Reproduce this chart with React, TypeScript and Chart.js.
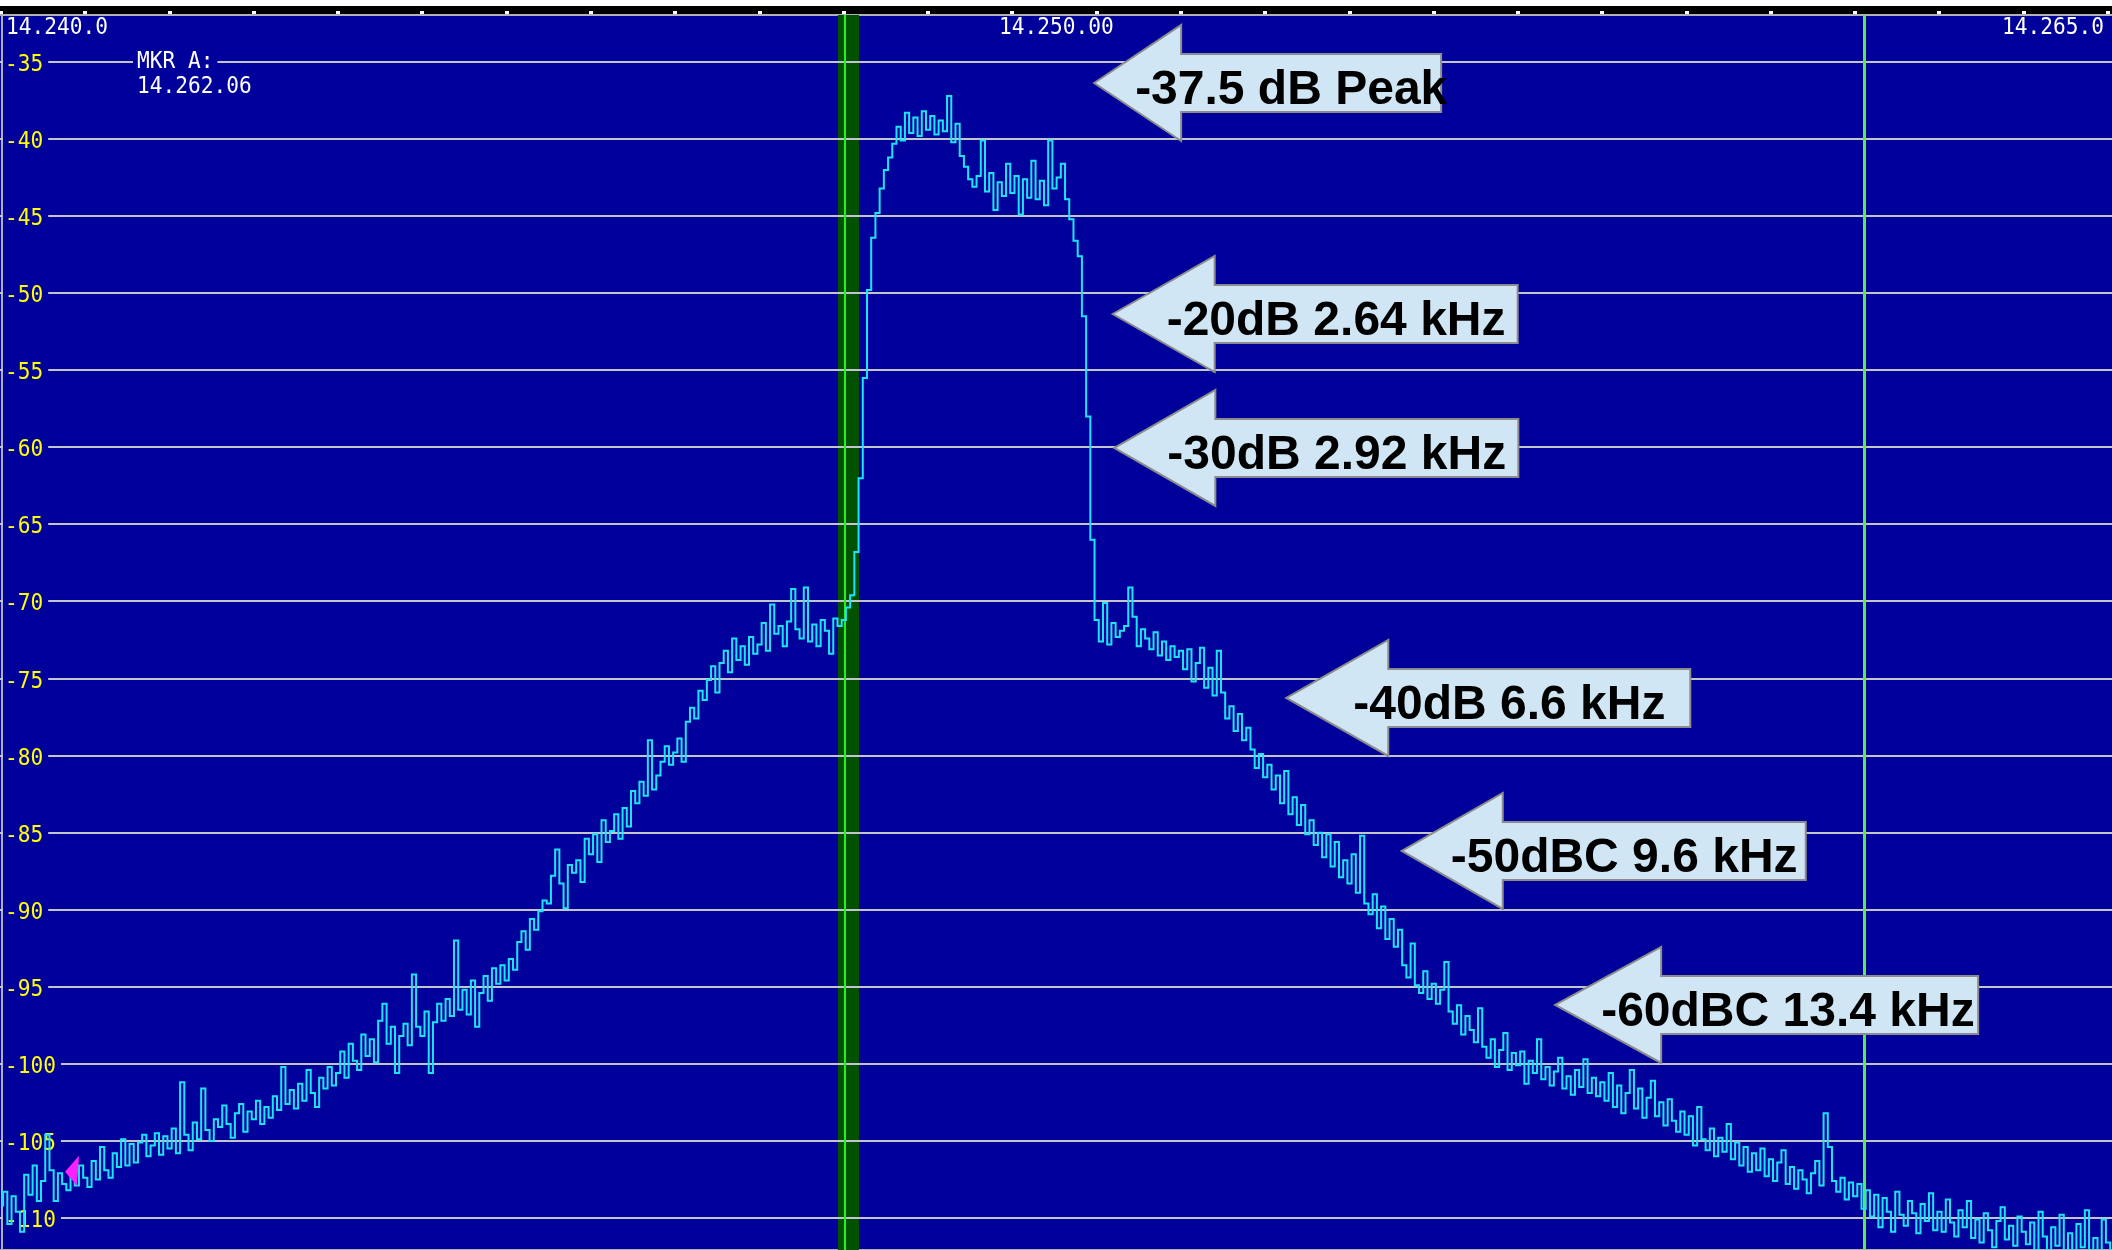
import React, { useEffect, useRef } from 'react';
import { Chart, registerables } from 'chart.js';

Chart.register(...registerables);

// ---- data (kHz offset from 14.240 MHz, level in dB) ----
const START_KHZ = 0;
const STEP_KHZ = 0.05;
const levelsDb: number[] = [
  // 0.00 - 0.95
  -109.2, -108.3, -110.4, -108.6, -109.6, -110.9, -107.2, -108.5, -106.6, -108.9, -107.6, -104.6, -106.9, -108.9, -107.1, -107.8, -108.2, -107.0, -107.9, -106.6,
  // 1
  -107.4, -108.0, -106.3, -107.5, -105.4, -106.9, -107.4, -105.8, -106.7, -104.9, -106.6, -105.2, -106.4, -105.1, -104.6, -106.0, -105.3, -104.5, -105.9, -104.7,
  // 2
  -105.5, -104.2, -105.8, -101.2, -104.6, -105.6, -103.8, -104.9, -101.6, -104.3, -105.0, -103.6, -104.1, -102.7, -103.9, -104.8, -103.2, -102.6, -104.4, -103.1,
  // 3
  -103.6, -102.4, -103.9, -102.8, -103.5, -102.1, -103.0, -100.2, -102.6, -101.7, -102.9, -101.3, -102.4, -100.4, -101.9, -102.8, -100.9, -101.6, -100.2, -101.4,
  // 4
  -100.6, -99.2, -100.9, -98.7, -99.8, -100.4, -98.1, -99.5, -98.4, -99.9, -97.2, -96.1, -98.7, -97.6, -100.6, -98.2, -97.4, -98.8, -94.2, -97.6,
  // 5
  -98.2, -96.6, -100.6, -97.3, -96.1, -97.2, -95.8, -96.9, -92.0, -96.5, -95.2, -96.8, -94.6, -97.6, -95.4, -94.3, -95.9, -93.8, -94.8, -93.6,
  // 6
  -94.6, -93.2, -93.9, -92.1, -91.4, -92.6, -90.6, -91.3, -90.1, -89.4, -89.6, -87.8, -86.1, -88.3, -89.9, -87.1, -87.6, -86.8, -88.2, -85.4,
  // 7
  -86.4, -85.1, -86.9, -84.2, -85.6, -84.9, -83.8, -85.4, -83.4, -84.6, -82.3, -83.1, -81.7, -82.6, -79.0, -82.2, -81.3, -80.4, -79.4, -80.6,
  // 8
  -79.8, -78.9, -80.4, -77.8, -76.9, -77.6, -75.8, -76.4, -75.1, -74.2, -75.9, -74.0, -73.2, -74.6, -72.4, -73.8, -72.9, -74.1, -72.3, -73.4,
  // 9
  -72.8, -71.4, -73.2, -70.2, -72.1, -71.6, -72.9, -71.3, -69.2, -71.8, -72.4, -69.1, -72.6, -71.5, -72.9, -71.2, -71.9, -73.4, -71.1, -71.6,
  // 10
  -71.2, -70.4, -69.6, -66.8, -62.0, -55.5, -49.8, -46.4, -44.8, -43.2, -42.0, -41.2, -40.3, -39.2, -40.1, -38.3, -39.6, -38.6, -39.8, -38.2,
  // 11
  -39.4, -38.5, -39.7, -38.8, -39.5, -37.2, -40.2, -39.0, -41.1, -41.8, -42.6, -43.1, -42.4, -40.1, -43.4, -42.2, -44.6, -42.8, -43.7, -41.6,
  // 12
  -43.5, -42.4, -44.9, -42.6, -43.8, -41.4, -43.9, -42.7, -44.3, -40.1, -43.2, -42.5, -41.6, -43.9, -45.2, -46.6, -47.6, -51.5, -58.0, -66.0,
  // 13
  -71.2, -72.6, -70.1, -72.8, -71.4, -72.3, -71.9, -71.6, -69.1, -71.0, -72.9, -71.8, -72.4, -73.1, -72.0, -73.5, -72.6, -73.8, -72.9, -73.6,
  // 14
  -73.2, -74.4, -73.1, -75.2, -74.0, -73.0, -75.6, -74.3, -76.1, -73.2, -75.9, -77.6, -76.8, -78.4, -77.3, -79.0, -78.2, -79.6, -80.8, -79.9,
  // 15
  -81.4, -80.6, -82.2, -81.3, -83.1, -81.0, -83.8, -82.7, -84.5, -83.2, -85.1, -84.2, -85.8, -85.0, -86.6, -85.1, -87.2, -85.6, -87.9, -86.8,
  // 16
  -88.3, -86.4, -88.9, -85.2, -89.6, -90.3, -89.0, -91.2, -89.8, -91.9, -90.6, -92.4, -91.3, -93.6, -94.4, -92.2, -94.9, -95.4, -94.0, -95.8,
  // 17
  -94.8, -96.1, -95.2, -93.4, -96.6, -97.4, -96.2, -98.1, -96.9, -97.8, -98.6, -96.4, -98.9, -99.6, -98.4, -100.2, -99.1, -98.0, -100.4, -99.3,
  // 18
  -100.1, -99.2, -101.3, -99.8, -100.6, -98.4, -101.0, -100.2, -101.4, -100.5, -99.6, -101.6, -100.8, -102.0, -100.4, -101.5, -99.7, -101.9, -100.9, -102.1,
  // 19
  -101.2, -102.4, -100.6, -102.8, -101.4, -103.2, -101.9, -100.4, -102.9, -101.6, -103.5, -102.2, -101.1, -103.4, -102.5, -104.0, -102.3, -103.7, -104.4, -103.1,
  // 20
  -104.6, -103.4, -105.3, -102.8, -104.9, -105.6, -104.2, -106.0, -104.8, -105.7, -103.9, -106.2, -105.1, -106.6, -105.4, -107.0, -105.8, -106.9, -105.5, -107.3,
  // 21
  -106.2, -107.6, -106.4, -105.6, -107.8, -106.7, -108.1, -106.9, -107.5, -108.4, -107.1, -106.3, -107.9, -103.2, -105.4, -107.6, -108.3, -107.4, -108.8, -107.7,
  // 22
  -108.6, -107.8, -109.4, -108.2, -109.9, -108.5, -110.6, -108.7, -109.6, -110.9, -108.3, -109.8, -110.5, -108.9, -109.7, -111.0, -109.1, -110.2, -108.4, -110.8,
  // 23
  -109.6, -110.9, -108.8, -110.3, -111.2, -109.5, -110.6, -108.9, -111.3, -110.1, -111.6, -109.7, -110.8, -111.9, -110.2, -109.3, -111.4, -110.5, -111.8, -109.9,
  // 24 - 25.05
  -110.9, -111.7, -110.3, -112.3, -109.6, -111.2, -112.5, -110.6, -111.8, -109.8, -112.2, -111.0, -112.6, -110.4, -111.9, -109.5, -112.4, -111.3, -112.8, -110.1, -111.6, -112.4,
];

const yTickDb = [-35, -40, -45, -50, -55, -60, -65, -70, -75, -80, -85, -90, -95, -100, -105, -110];
const kHzTicks = [0, 1, 2, 3, 4, 5, 6, 7, 8, 9, 10, 11, 12, 13, 14, 15, 16, 17, 18, 19, 20, 21, 22, 23, 24, 25];
const topLabels = ['14.240.0', '14.250.00', '14.265.0'];
const passbandKHz = [9.93, 10.18];
const tunedKHz = 10.01;
const markerAKHz = 22.11;
const markerText = ['MKR A:', '14.262.06'];
const markerArrowKHz = 0.76;
const markerArrowDb = -107.0;

const annoText = ['-37.5 dB Peak', '-20dB 2.64 kHz', '-30dB 2.92 kHz', '-40dB 6.6 kHz', '-50dBC 9.6 kHz', '-60dBC 13.4 kHz'];
const annoTipKHz = [12.97, 13.19, 13.21, 15.25, 16.62, 18.44];
const annoTipDb = [-36.36, -51.35, -60.04, -76.26, -86.19, -96.18];

const X_MIN = 0;
const X_MAX = 25.047;
const Y_MIN = -112.08;
const Y_MAX = -31.95;

const BLUE = '#00009a';
const MONO = '23px "DejaVu Sans Mono", monospace';
const SX = 0.92;

function monoText(ctx: CanvasRenderingContext2D, t: string, x: number, y: number, align: 'left' | 'right') {
  ctx.save();
  ctx.font = MONO;
  ctx.textAlign = 'left';
  const w = ctx.measureText(t).width * SX;
  const x0 = align === 'right' ? x - w : x;
  ctx.translate(x0, y);
  ctx.scale(SX, 1);
  ctx.fillText(t, 0, 0);
  ctx.restore();
  return w;
}

const scopePlugin = {
  id: 'scope',
  beforeDraw(chart: any) {
    const ctx = chart.ctx as CanvasRenderingContext2D;
    const W = chart.width;
    const H = chart.height;
    const ca = chart.chartArea;
    const xs = chart.scales.x;
    const ys = chart.scales.y;
    ctx.save();
    ctx.fillStyle = '#ffffff';
    ctx.fillRect(0, 0, W, H);
    ctx.fillStyle = '#000000';
    ctx.fillRect(0, 6, W, 8);
    ctx.fillStyle = BLUE;
    ctx.fillRect(0, ca.top, W, H - ca.top);
    // top border & left border
    ctx.fillStyle = '#b0b0b8';
    ctx.fillRect(0, 14, W, 2);
    ctx.fillRect(1, 14, 2, H - 14);
    ctx.fillRect(0, H - 1, W, 1);
    // top ticks
    ctx.fillStyle = '#ffffff';
    kHzTicks.forEach((k) => {
      const x = xs.getPixelForValue(k);
      ctx.fillRect(Math.round(x) - 2, 11, 4, 3);
    });
    // passband band
    const b1 = xs.getPixelForValue(passbandKHz[0]);
    const b2 = xs.getPixelForValue(passbandKHz[1]);
    ctx.fillStyle = '#005200';
    ctx.fillRect(b1, ca.top, b2 - b1, ca.bottom - ca.top);
    // horizontal grid
    ctx.fillStyle = '#c4c4cc';
    yTickDb.forEach((v) => {
      const y = Math.round(ys.getPixelForValue(v));
      ctx.fillRect(0, y - 1, W, 2);
    });
    // tuned line
    const tx = xs.getPixelForValue(tunedKHz);
    ctx.fillStyle = '#22ee22';
    ctx.fillRect(Math.round(tx) - 1, ca.top, 2, ca.bottom - ca.top);
    // marker A line
    const mx = xs.getPixelForValue(markerAKHz);
    ctx.fillStyle = '#55ee44';
    ctx.fillRect(Math.round(mx) - 1, ca.top, 3, ca.bottom - ca.top);
    // y labels
    ctx.font = MONO;
    ctx.textBaseline = 'alphabetic';
    yTickDb.forEach((v) => {
      const y = Math.round(ys.getPixelForValue(v));
      const t = String(v);
      const w = ctx.measureText(t).width * SX;
      ctx.fillStyle = BLUE;
      ctx.fillRect(3, y - 12, w + 7, 24);
      ctx.fillStyle = '#ffff00';
      monoText(ctx, t, 5, y + 9, 'left');
    });
    // top frequency labels
    ctx.fillStyle = '#ffffff';
    monoText(ctx, topLabels[0], 6, 34, 'left');
    monoText(ctx, topLabels[1], 999, 34, 'left');
    monoText(ctx, topLabels[2], 2104, 34, 'right');
    // marker text
    ctx.font = MONO;
    const mw = ctx.measureText(markerText[0]).width * SX;
    ctx.fillStyle = BLUE;
    ctx.fillRect(133, 50, mw + 8, 22);
    ctx.fillStyle = '#ffffff';
    monoText(ctx, markerText[0], 137, 68, 'left');
    monoText(ctx, markerText[1], 137, 93, 'left');
    ctx.restore();
  },
  afterDatasetsDraw(chart: any) {
    const ctx = chart.ctx as CanvasRenderingContext2D;
    const xs = chart.scales.x;
    const ys = chart.scales.y;
    ctx.save();
    // magenta marker arrow
    const px = xs.getPixelForValue(markerArrowKHz);
    const py = ys.getPixelForValue(markerArrowDb);
    ctx.fillStyle = '#ff20ff';
    ctx.beginPath();
    ctx.moveTo(px, py);
    ctx.lineTo(px + 14, py - 16);
    ctx.lineTo(px + 12, py + 14);
    ctx.closePath();
    ctx.fill();
    // callout arrows
    const headLen = [87, 102, 101, 102, 101, 106];
    const totalW = [347, 405, 404, 404, 404, 423];
    const textOff = [41, 54, 53, 67, 49, 46];
    ctx.lineJoin = 'miter';
    annoText.forEach((t, i) => {
      const x = xs.getPixelForValue(annoTipKHz[i]);
      const y = ys.getPixelForValue(annoTipDb[i]);
      const hx = x + headLen[i];
      const rx = x + totalW[i];
      ctx.beginPath();
      ctx.moveTo(x, y);
      ctx.lineTo(hx, y - 58);
      ctx.lineTo(hx, y - 29);
      ctx.lineTo(rx, y - 29);
      ctx.lineTo(rx, y + 29);
      ctx.lineTo(hx, y + 29);
      ctx.lineTo(hx, y + 58);
      ctx.closePath();
      ctx.fillStyle = '#d0e6f4';
      ctx.fill();
      ctx.strokeStyle = '#8c8c8c';
      ctx.lineWidth = 2;
      ctx.stroke();
      ctx.fillStyle = '#000000';
      ctx.font = 'bold 48px "Liberation Sans", Arial, sans-serif';
      ctx.textAlign = 'left';
      ctx.textBaseline = 'alphabetic';
      ctx.fillText(t, x + textOff[i], y + 21);
    });
    ctx.restore();
  },
};

export default function App() {
  const ref = useRef<HTMLCanvasElement>(null);
  useEffect(() => {
    document.body.style.margin = '0';
    const points = levelsDb.map((v, i) => ({ x: START_KHZ + i * STEP_KHZ, y: v }));
    const chart = new Chart(ref.current as HTMLCanvasElement, {
      type: 'line',
      data: {
        datasets: [
          {
            label: 'Spectrum',
            data: points,
            borderColor: '#1ce4fc',
            borderWidth: 2,
            pointRadius: 0,
            stepped: 'middle',
            fill: false,
          },
        ],
      },
      options: {
        animation: false,
        responsive: false,
        events: [],
        layout: { padding: { top: 15, left: 1, right: 0, bottom: 0 } },
        scales: {
          x: { type: 'linear', min: X_MIN, max: X_MAX, display: false },
          y: { type: 'linear', min: Y_MIN, max: Y_MAX, display: false },
        },
        plugins: { legend: { display: false }, tooltip: { enabled: false } },
      },
      plugins: [scopePlugin],
    } as any);
    return () => chart.destroy();
  }, []);
  return <canvas ref={ref} width={2112} height={1250} style={{ display: 'block' }} />;
}
